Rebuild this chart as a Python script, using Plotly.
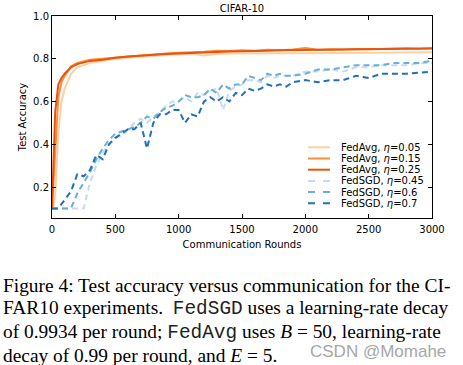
import plotly.graph_objects as go

# ---- data ----
rounds_avg = [0, 10, 25, 50, 75, 100, 150, 200, 300, 400, 500, 600, 700, 800, 900, 1000,
              1100, 1200, 1300, 1400, 1500, 1600, 1700, 1800, 1900, 2000, 2100, 2200, 2300,
              2400, 2500, 2600, 2700, 2800, 2900, 3000]
avg_005 = [0.10, 0.11, 0.15, 0.45, 0.60, 0.66, 0.73, 0.76, 0.78, 0.79, 0.80, 0.805, 0.81, 0.815,
           0.818, 0.82, 0.822, 0.815, 0.822, 0.824, 0.825, 0.824, 0.826, 0.825, 0.826, 0.826,
           0.827, 0.826, 0.828, 0.827, 0.828, 0.828, 0.829, 0.828, 0.829, 0.83]
avg_015 = [0.10, 0.20, 0.40, 0.62, 0.69, 0.72, 0.765, 0.78, 0.795, 0.80, 0.808, 0.812, 0.818,
           0.822, 0.825, 0.828, 0.83, 0.833, 0.838, 0.836, 0.84, 0.838, 0.842, 0.84, 0.843,
           0.85, 0.842, 0.845, 0.843, 0.846, 0.845, 0.847, 0.846, 0.849, 0.847, 0.85]
avg_025 = [0.10, 0.30, 0.55, 0.68, 0.71, 0.73, 0.76, 0.775, 0.79, 0.795, 0.805, 0.81, 0.815,
           0.82, 0.822, 0.825, 0.828, 0.83, 0.832, 0.834, 0.835, 0.838, 0.838, 0.84, 0.84,
           0.84, 0.842, 0.842, 0.843, 0.844, 0.845, 0.845, 0.846, 0.846, 0.847, 0.848]

rounds_sgd = [0, 50, 100, 150, 200, 250, 300, 350, 400, 450, 500, 550, 600, 650, 700, 750,
              800, 850, 900, 950, 1000, 1050, 1100, 1150, 1200, 1250, 1300, 1350, 1400, 1450,
              1500, 1550, 1600, 1650, 1700, 1750, 1800, 1850, 1900, 2000, 2100, 2200, 2300,
              2400, 2500, 2600, 2700, 2800, 2900, 3000]
sgd_045 = [0.10, 0.10, 0.10, 0.10, 0.10, 0.10, 0.22, 0.30, 0.36, 0.40, 0.43, 0.44, 0.47, 0.50,
           0.52, 0.50, 0.53, 0.55, 0.58, 0.60, 0.60, 0.62, 0.60, 0.64, 0.63, 0.65, 0.66, 0.56,
           0.65, 0.67, 0.68, 0.70, 0.70, 0.69, 0.72, 0.71, 0.72, 0.72, 0.72, 0.74, 0.74, 0.75,
           0.74, 0.76, 0.76, 0.77, 0.77, 0.77, 0.78, 0.78]
sgd_06 = [0.10, 0.10, 0.10, 0.10, 0.17, 0.22, 0.27, 0.33, 0.38, 0.42, 0.45, 0.46, 0.47, 0.48,
          0.50, 0.53, 0.52, 0.55, 0.57, 0.58, 0.60, 0.63, 0.62, 0.62, 0.63, 0.66, 0.64, 0.68,
          0.66, 0.68, 0.68, 0.72, 0.71, 0.70, 0.73, 0.72, 0.73, 0.72, 0.72, 0.73, 0.75, 0.75,
          0.76, 0.77, 0.77, 0.77, 0.78, 0.78, 0.78, 0.79]
sgd_07 = [0.10, 0.10, 0.14, 0.18, 0.26, 0.25, 0.28, 0.35, 0.33, 0.40, 0.43, 0.45, 0.47, 0.47,
          0.50, 0.38, 0.50, 0.54, 0.54, 0.56, 0.56, 0.50, 0.54, 0.53, 0.60, 0.62, 0.60, 0.62,
          0.60, 0.64, 0.63, 0.66, 0.65, 0.66, 0.68, 0.67, 0.68, 0.67, 0.69, 0.70, 0.69, 0.70,
          0.70, 0.72, 0.71, 0.73, 0.73, 0.73, 0.735, 0.74]

x_ticks = [0, 500, 1000, 1500, 2000, 2500, 3000]
y_ticks = [0.2, 0.4, 0.6, 0.8, 1.0]
y_tick_labels = ["0.2", "0.4", "0.6", "0.8", "1.0"]

MONO = "<span style='font-family:Liberation Mono;font-weight:300;fill:#222'>{}</span>"
caption_lines = [
    "Figure 4: Test accuracy versus communication for the CI-",
    "FAR10 experiments.  " + MONO.format("FedSGD") + " uses a learning-rate decay",
    "of 0.9934 per round; " + MONO.format("FedAvg") + " uses <i>B</i> = 50, learning-rate",
    "decay of 0.99 per round, and <i>E</i> = 5.",
]

eta = "<i>η</i>"
series = [
    ("FedAvg, " + eta + "=0.05", rounds_avg, avg_005, "#fdd0a2", "solid"),
    ("FedAvg, " + eta + "=0.15", rounds_avg, avg_015, "#fd8d3c", "solid"),
    ("FedAvg, " + eta + "=0.25", rounds_avg, avg_025, "#e6550d", "solid"),
    ("FedSGD, " + eta + "=0.45", rounds_sgd, sgd_045, "#c6dbef", "6px,4px"),
    ("FedSGD, " + eta + "=0.6", rounds_sgd, sgd_06, "#6baed6", "6px,4px"),
    ("FedSGD, " + eta + "=0.7", rounds_sgd, sgd_07, "#2171b5", "6px,4px"),
]

# plot area in pixels
L, R, T, B = 52, 432, 16, 218
W_PX, H_PX = R - L, B - T
def px(xp):
    return (xp - L) / W_PX
def py(yp):
    return (B - yp) / H_PX

fig = go.Figure()
for name, xs, ys, col, dash in series:
    fig.add_trace(go.Scatter(x=xs, y=ys, mode="lines", name=name, showlegend=False,
                             line=dict(color=col, width=2, dash=dash)))

axis_common = dict(showline=True, linecolor="black", linewidth=1, mirror="ticks",
                   ticks="inside", ticklen=4, tickcolor="black", showgrid=False,
                   zeroline=False, automargin=False,
                   tickfont=dict(size=10, color="black", family="DejaVu Sans"))
fig.update_xaxes(range=[0, 3000], tickvals=x_ticks, ticklabelstandoff=2,
                 title=dict(text="Communication Rounds", standoff=6,
                            font=dict(size=10, color="black", family="DejaVu Sans")),
                 **axis_common)
fig.update_yaxes(range=[0.055, 1.0], tickvals=y_ticks, ticktext=y_tick_labels,
                 title=dict(text="Test Accuracy", standoff=4,
                            font=dict(size=10, color="black", family="DejaVu Sans")),
                 **axis_common)

annotations = []
shapes = []
# legend (custom, to match compact matplotlib spacing)
for i, (name, xs, ys, col, dash) in enumerate(series):
    yc = 147.3 + 11.2 * i
    shapes.append(dict(type="line", xref="paper", yref="paper", x0=px(308), x1=px(330),
                       y0=py(yc), y1=py(yc),
                       line=dict(color=col, width=2, dash="solid" if dash == "solid" else "7px,8px")))
    annotations.append(dict(text=name, xref="paper", yref="paper", x=px(339), y=py(yc),
                            xanchor="left", yanchor="middle", showarrow=False,
                            font=dict(size=10, color="black", family="DejaVu Sans")))

for i, line in enumerate(caption_lines):
    annotations.append(dict(text=line, xref="paper", yref="paper", x=px(1), y=py(285 + 23.5 * i),
                            xanchor="left", yanchor="middle", showarrow=False,
                            font=dict(size=19.4, family="Liberation Serif", color="black")))
annotations.append(dict(text="CSDN @Momahe", xref="paper", yref="paper", x=px(448),
                        y=py(351), xanchor="right", yanchor="middle", showarrow=False,
                        font=dict(size=17, family="Liberation Sans", color="#a6a6a6")))

fig.update_layout(
    width=463, height=365,
    margin=dict(l=L, r=463 - R, t=T, b=365 - B),
    paper_bgcolor="white", plot_bgcolor="white",
    title=dict(text="CIFAR-10", x=242 / 463, xanchor="center", y=1 - 8 / 365, yanchor="middle",
               font=dict(size=10, color="black", family="DejaVu Sans")),
    annotations=annotations,
    shapes=shapes,
    showlegend=False,
)

fig.write_html("out.html", config={"displayModeBar": False},
               post_script="document.body.style.margin='0px';document.body.style.overflow='hidden';")
